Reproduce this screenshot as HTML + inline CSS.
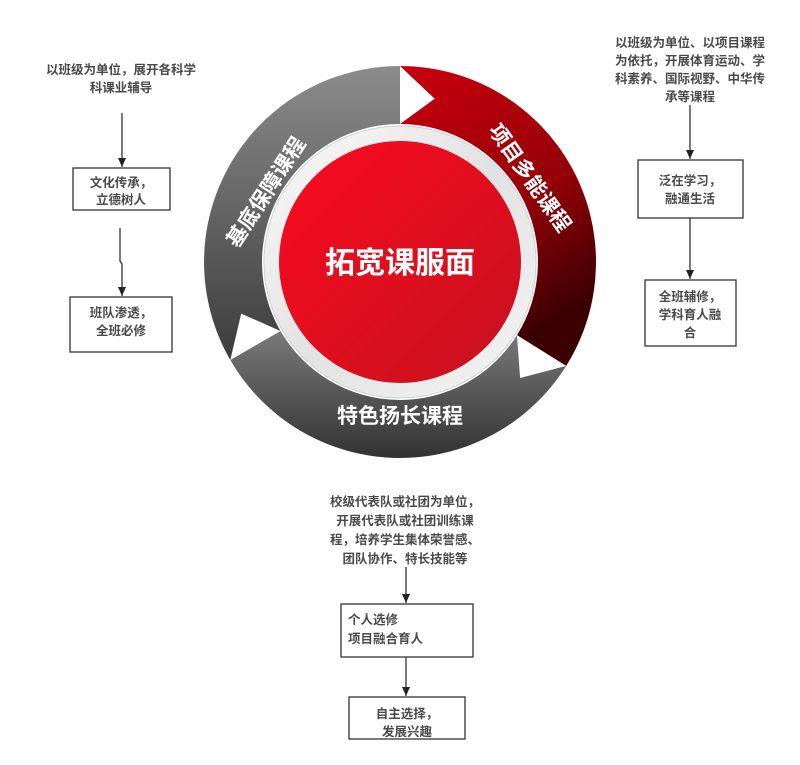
<!DOCTYPE html>
<html><head><meta charset="utf-8"><style>
body{margin:0;background:#fff;}
svg{display:block;}
.t{font-family:"Liberation Sans","Noto Sans CJK SC",sans-serif;font-weight:bold;}
.s{fill:#4a4a4a;font-size:12.5px;}
</style></head><body>
<svg width="800" height="765" viewBox="0 0 800 765" xmlns="http://www.w3.org/2000/svg">
<defs>
<linearGradient id="gr" x1="0" y1="0" x2="0.4" y2="1"><stop offset="0" stop-color="#c9000e"/><stop offset="0.6" stop-color="#950008"/><stop offset="1" stop-color="#3c0003"/></linearGradient>
<linearGradient id="gl" x1="0" y1="0" x2="0" y2="1"><stop offset="0" stop-color="#8c8c8c"/><stop offset="1" stop-color="#3c3c3c"/></linearGradient>
<linearGradient id="gb" x1="0" y1="0" x2="0" y2="1"><stop offset="0" stop-color="#7a7a7a"/><stop offset="1" stop-color="#333"/></linearGradient>
<linearGradient id="gw" x1="0" y1="0" x2="1" y2="1"><stop offset="0" stop-color="#fafafa"/><stop offset="0.5" stop-color="#e2e2e2"/><stop offset="1" stop-color="#f5f5f5"/></linearGradient>
<linearGradient id="gc" x1="0" y1="0" x2="1" y2="1"><stop offset="0" stop-color="#fa0a1e"/><stop offset="1" stop-color="#c6121e"/></linearGradient>
<marker id="ar" markerWidth="10" markerHeight="10" refX="9" refY="5" orient="auto" markerUnits="userSpaceOnUse"><path d="M0,1 L9,5 L0,9 Z" fill="#222"/></marker>
</defs>
<path d="M400 66 A196 196 0 0 1 566.2 365.9 L517 335.1 A138 138 0 0 0 400 124 L434.7 98.7 Z" fill="url(#gr)"/>
<path d="M566.2 365.9 A196 196 0 0 1 230.3 360 L280.5 331 A138 138 0 0 0 517 335.1 L520.1 378 Z" fill="url(#gb)"/>
<path d="M230.3 360 A196 196 0 0 1 400 66 L400 124 A138 138 0 0 0 280.5 331 L241.2 313.6 Z" fill="url(#gl)"/>
<circle cx="400" cy="262" r="136" fill="url(#gw)" stroke="#d0d0d0" stroke-width="1"/>
<circle cx="400" cy="262" r="121" fill="url(#gc)"/>
<text class="t" x="400" y="273" font-size="30" fill="#fff" text-anchor="middle">拓宽课服面</text>
<text class="t" x="400" y="423" font-size="21" fill="#fff" text-anchor="middle">特色扬长课程</text>
<text class="t" x="0" y="0" font-size="21" fill="#fff" text-anchor="middle" transform="translate(272,196) rotate(-57)">基底保障课程</text>
<text class="t" x="0" y="0" font-size="21" fill="#fff" text-anchor="middle" transform="translate(524,182) rotate(55)">项目多能课程</text>

<g class="t s" text-anchor="middle">
<text x="121" y="74">以班级为单位，展开各科学</text>
<text x="121" y="92">科课业辅导</text>
<text x="121" y="187">文化传承，</text>
<text x="121" y="204">立德树人</text>
<text x="121" y="317">班队渗透，</text>
<text x="121" y="335">全班必修</text>
<text x="690" y="47">以班级为单位、以项目课程</text>
<text x="690" y="65">为依托，开展体育运动、学</text>
<text x="690" y="83">科素养、国际视野、中华传</text>
<text x="690" y="101">承等课程</text>
<text x="690" y="185">泛在学习，</text>
<text x="690" y="203">融通生活</text>
<text x="690" y="301">全班辅修，</text>
<text x="690" y="319">学科育人融</text>
<text x="690" y="337">合</text>
<text x="405" y="506">校级代表队或社团为单位，</text>
<text x="405" y="525">开展代表队或社团训练课</text>
<text x="405" y="544">程，培养学生集体荣誉感、</text>
<text x="405" y="563">团队协作、特长技能等</text>
<text x="407" y="718">自主选择，</text>
<text x="407" y="736">发展兴趣</text>
</g>
<g class="t s"><text x="348" y="624">个人选修</text><text x="348" y="643">项目融合育人</text></g>

<g fill="none" stroke="#333" stroke-width="1.3">
<rect x="73" y="168" width="97" height="42"/>
<rect x="70" y="297" width="102" height="55"/>
<rect x="638" y="160" width="105" height="58"/>
<rect x="645" y="280" width="91" height="66"/>
<rect x="341" y="604" width="132" height="53"/>
<rect x="349" y="697" width="116" height="42"/>
<line x1="122" y1="113" x2="122" y2="167" marker-end="url(#ar)"/>
<polyline points="120,228 120,261 122,264 122,296" marker-end="url(#ar)"/>
<line x1="690" y1="105" x2="690" y2="159" marker-end="url(#ar)"/>
<line x1="690" y1="218" x2="690" y2="279" marker-end="url(#ar)"/>
<line x1="406" y1="567" x2="406" y2="603" marker-end="url(#ar)"/>
<line x1="406" y1="657" x2="406" y2="696" marker-end="url(#ar)"/>
</g>
</svg>
</body></html>
